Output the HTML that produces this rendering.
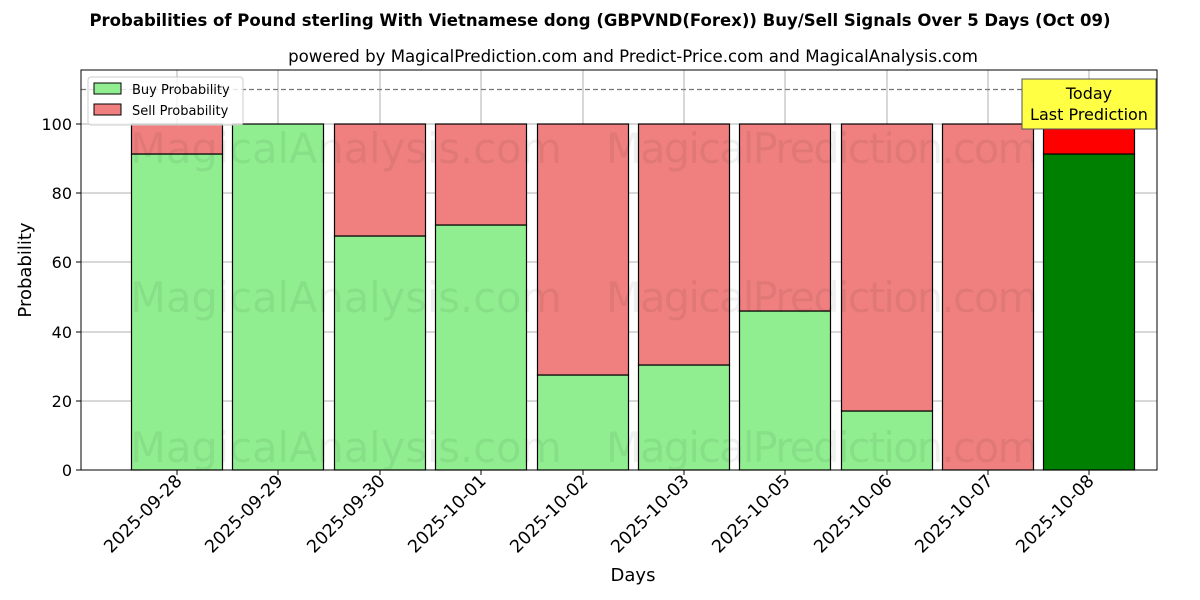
<!DOCTYPE html>
<html><head><meta charset="utf-8"><style>body{margin:0;background:#fff}svg{display:block}text{font-family:"DejaVu Sans","Liberation Sans",sans-serif}</style></head><body>
<svg width="1200" height="600" xmlns="http://www.w3.org/2000/svg">
<rect width="1200" height="600" fill="#fff"/>
<text x="600" y="26" text-anchor="middle" font-size="16.5" font-weight="bold">Probabilities of Pound sterling With Vietnamese dong (GBPVND(Forex)) Buy/Sell Signals Over 5 Days (Oct 09)</text>
<text x="633" y="62" text-anchor="middle" font-size="16.6">powered by MagicalPrediction.com and Predict-Price.com and MagicalAnalysis.com</text>
<g stroke="#b0b0b0" stroke-width="1">
<line x1="177" y1="70" x2="177" y2="470"/><line x1="278" y1="70" x2="278" y2="470"/><line x1="380" y1="70" x2="380" y2="470"/><line x1="481" y1="70" x2="481" y2="470"/><line x1="583" y1="70" x2="583" y2="470"/><line x1="684" y1="70" x2="684" y2="470"/><line x1="785" y1="70" x2="785" y2="470"/><line x1="887" y1="70" x2="887" y2="470"/><line x1="988" y1="70" x2="988" y2="470"/><line x1="1089" y1="70" x2="1089" y2="470"/>
<line x1="81" y1="401" x2="1157" y2="401"/><line x1="81" y1="332" x2="1157" y2="332"/><line x1="81" y1="262" x2="1157" y2="262"/><line x1="81" y1="193" x2="1157" y2="193"/><line x1="81" y1="124" x2="1157" y2="124"/>
</g>
<g stroke="#000" stroke-width="1.2">
<rect x="131.5" y="154" width="91" height="316" fill="#90ee90"/><rect x="131.5" y="124" width="91" height="30" fill="#f08080"/>
<rect x="232.5" y="124" width="91" height="346" fill="#90ee90"/>
<rect x="334.5" y="236" width="91" height="234" fill="#90ee90"/><rect x="334.5" y="124" width="91" height="112" fill="#f08080"/>
<rect x="435.5" y="225" width="91" height="245" fill="#90ee90"/><rect x="435.5" y="124" width="91" height="101" fill="#f08080"/>
<rect x="537.5" y="375" width="91" height="95" fill="#90ee90"/><rect x="537.5" y="124" width="91" height="251" fill="#f08080"/>
<rect x="638.5" y="365" width="91" height="105" fill="#90ee90"/><rect x="638.5" y="124" width="91" height="241" fill="#f08080"/>
<rect x="739.5" y="311" width="91" height="159" fill="#90ee90"/><rect x="739.5" y="124" width="91" height="187" fill="#f08080"/>
<rect x="841.5" y="411" width="91" height="59" fill="#90ee90"/><rect x="841.5" y="124" width="91" height="287" fill="#f08080"/>
<rect x="942.5" y="124" width="91" height="346" fill="#f08080"/>
<rect x="1043.5" y="154" width="91" height="316" fill="#008000"/><rect x="1043.5" y="124" width="91" height="30" fill="#ff0000"/>
</g>
<g fill="#000" fill-opacity="0.06" font-size="41.5" text-anchor="middle">
<text x="346" y="163">MagicalAnalysis.com</text><text x="822" y="163" textLength="432">MagicalPrediction.com</text>
<text x="346" y="312">MagicalAnalysis.com</text><text x="822" y="312" textLength="432">MagicalPrediction.com</text>
<text x="346" y="462">MagicalAnalysis.com</text><text x="822" y="462" textLength="432">MagicalPrediction.com</text>
</g>
<line x1="81" y1="89.5" x2="1157" y2="89.5" stroke="#777" stroke-width="1.2" stroke-dasharray="5,3"/>
<rect x="1022" y="79" width="134" height="50" fill="#ffff44" stroke="#555"/>
<text x="1089" y="99" text-anchor="middle" font-size="16">Today</text>
<text x="1089" y="120" text-anchor="middle" font-size="16">Last Prediction</text>
<rect x="81" y="70" width="1076" height="400" fill="none" stroke="#000" stroke-width="1"/>
<g stroke="#000"><line x1="76" y1="470" x2="81" y2="470"/><line x1="76" y1="401" x2="81" y2="401"/><line x1="76" y1="332" x2="81" y2="332"/><line x1="76" y1="262" x2="81" y2="262"/><line x1="76" y1="193" x2="81" y2="193"/><line x1="76" y1="124" x2="81" y2="124"/></g>
<g font-size="16" text-anchor="end"><text x="72" y="476">0</text><text x="72" y="407">20</text><text x="72" y="338">40</text><text x="72" y="268">60</text><text x="72" y="199">80</text><text x="72" y="130">100</text></g>
<g stroke="#000"><line x1="177" y1="470" x2="177" y2="475"/><line x1="278" y1="470" x2="278" y2="475"/><line x1="380" y1="470" x2="380" y2="475"/><line x1="481" y1="470" x2="481" y2="475"/><line x1="583" y1="470" x2="583" y2="475"/><line x1="684" y1="470" x2="684" y2="475"/><line x1="785" y1="470" x2="785" y2="475"/><line x1="887" y1="470" x2="887" y2="475"/><line x1="988" y1="470" x2="988" y2="475"/><line x1="1089" y1="470" x2="1089" y2="475"/></g>
<g font-size="17.5" text-anchor="end">
<text transform="translate(183,482) rotate(-45)">2025-09-28</text><text transform="translate(284,482) rotate(-45)">2025-09-29</text><text transform="translate(386,482) rotate(-45)">2025-09-30</text><text transform="translate(487,482) rotate(-45)">2025-10-01</text><text transform="translate(589,482) rotate(-45)">2025-10-02</text><text transform="translate(690,482) rotate(-45)">2025-10-03</text><text transform="translate(791,482) rotate(-45)">2025-10-05</text><text transform="translate(893,482) rotate(-45)">2025-10-06</text><text transform="translate(994,482) rotate(-45)">2025-10-07</text><text transform="translate(1095,482) rotate(-45)">2025-10-08</text>
</g>
<text x="633" y="581" text-anchor="middle" font-size="18">Days</text>
<text transform="translate(31,270) rotate(-90)" text-anchor="middle" font-size="18">Probability</text>
<rect x="88" y="77" width="155" height="48" fill="#fff" fill-opacity="0.8" stroke="#ccc" rx="3"/>
<rect x="94" y="83" width="27" height="11" fill="#90ee90" stroke="#000"/><text x="132" y="94" font-size="13">Buy Probability</text>
<rect x="94" y="104" width="27" height="11" fill="#f08080" stroke="#000"/><text x="132" y="115" font-size="13">Sell Probability</text>
</svg>
</body></html>
